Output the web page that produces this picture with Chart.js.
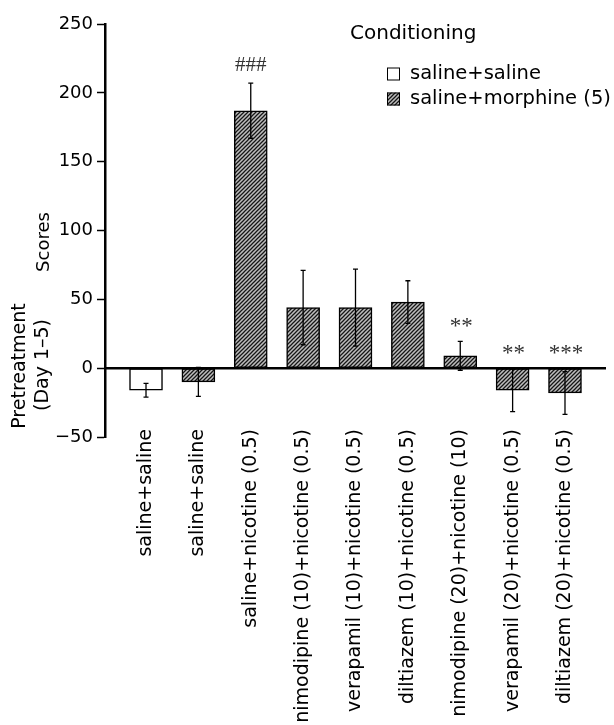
<!DOCTYPE html>
<html><head><meta charset="utf-8">
<script src="https://cdn.jsdelivr.net/npm/chart.js@4"></script>
<style>html,body{margin:0;padding:0;background:#fff}</style>
</head><body>
<canvas id="c" width="614" height="725"></canvas>
<script>
const categories = ['saline+saline','saline+saline','saline+nicotine (0.5)','nimodipine (10)+nicotine (0.5)','verapamil (10)+nicotine (0.5)','diltiazem (10)+nicotine (0.5)','nimodipine (20)+nicotine (10)','verapamil (20)+nicotine (0.5)','diltiazem (20)+nicotine (0.5)'];
const conditioningGroups = ['saline+saline','saline+morphine (5)'];
const groupOfBar = [0,1,1,1,1,1,1,1,1];
const meanScores = [-16,-10,187,44,44,48,9,-16,-18];
const semScores = [5,10.5,20,27,28,15.5,10.5,15.5,15.5];
const significance = ['','','###','','','','**','**','***'];
const yTicks = [-50,0,50,100,150,200,250];

const FONT = 'DejaVu Sans';
const canvas = document.getElementById('c');
const mainCtx = canvas.getContext('2d');

function makeHatch(){
  const p = document.createElement('canvas'); p.width = 4; p.height = 4;
  const g = p.getContext('2d');
  g.fillStyle = '#bdbdbd'; g.fillRect(0,0,4,4);
  g.strokeStyle = '#161616'; g.lineWidth = 1.25;
  g.beginPath();
  g.moveTo(-1,5); g.lineTo(5,-1);
  g.moveTo(-1,1); g.lineTo(1,-1);
  g.moveTo(3,5); g.lineTo(5,3);
  g.stroke();
  return mainCtx.createPattern(p,'repeat');
}
const hatch = makeHatch();
const groupFills = ['#ffffff', hatch];

const datasets = conditioningGroups.map((name, gi) => ({
  label: name,
  data: meanScores.map((v,i) => groupOfBar[i] === gi ? {x:i, y:v} : null).filter(Boolean),
  backgroundColor: groupFills[gi],
  borderColor: '#000',
  borderWidth: 1.5,
  borderSkipped: false,
  barThickness: 33,
  grouped: false
}));

const overlay = {
  id: 'overlay',
  afterDatasetsDraw(chart){
    const {ctx, chartArea, scales:{x, y}} = chart;
    ctx.save();
    const y0 = y.getPixelForValue(0);
    ctx.strokeStyle = '#000'; ctx.lineWidth = 2.5;
    ctx.beginPath(); ctx.moveTo(chartArea.left, y0); ctx.lineTo(chartArea.right, y0); ctx.stroke();
    ctx.lineWidth = 1.3;
    meanScores.forEach((m,i) => {
      const px = x.getPixelForValue(i);
      const top = y.getPixelForValue(m + semScores[i]);
      const bot = y.getPixelForValue(m - semScores[i]);
      ctx.beginPath();
      ctx.moveTo(px, top); ctx.lineTo(px, bot);
      ctx.moveTo(px-2.5, top); ctx.lineTo(px+2.5, top);
      ctx.moveTo(px-2.5, bot); ctx.lineTo(px+2.5, bot);
      ctx.stroke();
      const s = significance[i];
      if (s) {
        const base = Math.min(top, y0);
        const center = base - 19;
        ctx.fillStyle = '#333';
        ctx.textAlign = 'center'; ctx.textBaseline = 'alphabetic';
        if (s.startsWith('#')) {
          ctx.font = '21px "Liberation Serif"';
          ctx.fillText(s, px, center + 7);
        } else {
          ctx.font = '23px "Liberation Serif"';
          ctx.fillText(s, px + 1, center + 11);
        }
      }
    });
    ctx.restore();
  },
  afterDraw(chart){
    const {ctx, scales:{x}} = chart;
    ctx.save();
    ctx.fillStyle = '#000';
    const rot = (t, cx, cy, align) => { ctx.save(); ctx.translate(cx, cy); ctx.rotate(-Math.PI/2); ctx.textAlign = align; ctx.fillText(t, 0, 0); ctx.restore(); };
    ctx.textBaseline = 'middle';
    ctx.font = '19px "' + FONT + '"';
    categories.forEach((c,i) => rot(c, x.getPixelForValue(i), 429, 'right'));
    ctx.font = '18px "' + FONT + '"';
    rot('Scores', 44, 242, 'center');
    ctx.font = '19px "' + FONT + '"';
    rot('Pretreatment', 20, 366, 'center');
    rot('(Day 1\u20135)', 43, 365, 'center');
    ctx.textAlign = 'left';
    ctx.font = '20px "' + FONT + '"';
    ctx.fillText('Conditioning', 350, 34);
    ctx.font = '19.5px "' + FONT + '"';
    chart.data.datasets.forEach((ds, k) => {
      const cy = 74 + k*25;
      ctx.fillStyle = ds.backgroundColor;
      ctx.fillRect(387, cy-6.5, 13, 13);
      ctx.strokeStyle = '#000'; ctx.lineWidth = 1;
      ctx.strokeRect(387.5, cy-6, 12, 12);
      ctx.fillStyle = '#000';
      ctx.fillText(ds.label, 410, cy);
    });
    ctx.restore();
  }
};

new Chart(canvas, {
  type: 'bar',
  data: { datasets },
  plugins: [overlay],
  options: {
    responsive: false,
    animation: false,
    layout: { padding: { left: 0, right: 8, top: 24, bottom: 0 } },
    plugins: { legend: { display: false }, tooltip: { enabled: false } },
    scales: {
      x: {
        type: 'linear',
        offset: false,
        min: -0.783, max: 8.783,
        grid: { display: false, drawTicks: false },
        border: { display: false },
        afterBuildTicks: s => { s.ticks = categories.map((c,i) => ({value: i})); },
        afterFit: s => { s.height = 288; },
        ticks: { display: false }
      },
      y: {
        min: -50, max: 250,
        afterBuildTicks: s => { s.ticks = yTicks.map(v => ({value: v})); },
        afterFit: s => { s.width = 105; },
        border: { display: true, color: '#000', width: 2.5 },
        grid: {
          drawOnChartArea: false, drawTicks: true, tickLength: 8,
          tickColor: '#000', tickWidth: 1.5
        },
        ticks: {
          padding: 4, color: '#000', font: { family: FONT, size: 18 },
          callback: v => v < 0 ? '\u2212' + Math.abs(v) : String(v)
        }
      }
    }
  }
});
</script>
</body></html>
